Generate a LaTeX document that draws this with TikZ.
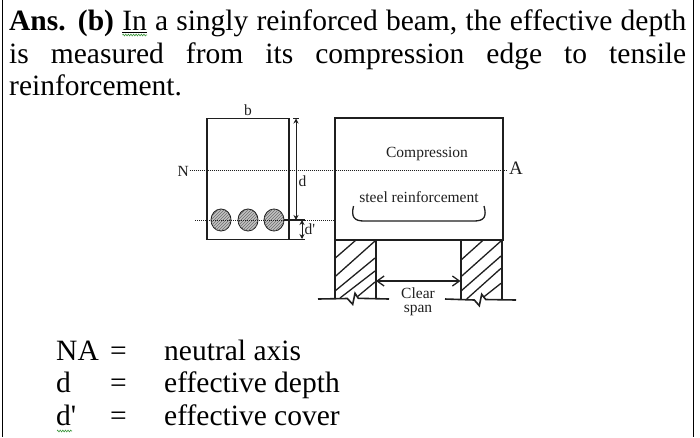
\documentclass[tikz,border=0pt]{standalone}
\usepackage{fontspec}
\setmainfont{Liberation Serif}
\usepackage{xcolor}
\definecolor{lineblack}{gray}{.12}
\definecolor{spellgreen}{RGB}{60,150,60}
\definecolor{rebargray}{gray}{.76}
\usepackage{tikz}
\usetikzlibrary{arrows.meta}
\usetikzlibrary{patterns}
\usetikzlibrary{shapes.geometric}
\usetikzlibrary{decorations.pathmorphing}
\newcommand{\sizebig}{\fontsize{29.5}{32.5}\selectfont}
\newcommand{\sizelabel}{\fontsize{15.5}{14}\selectfont}
\tikzset{
    common/.style={anchor=north west, rectangle, inner sep=0pt, outer sep=0pt},
    section/.style={common, draw=lineblack, line width=1.1pt, minimum width=82pt, minimum height=121pt},
    elevation/.style={common, draw=lineblack, line width=2pt, minimum width=168pt, minimum height=122.5pt},
    support/.style={common, minimum width=41.5pt, minimum height=59pt},
    wall/.style={line width=2pt, lineblack},
    bigtext/.style={anchor=base west, inner sep=0pt, font=\sizebig},
    small/.style={inner sep=0pt, font=\sizelabel, text=lineblack},
    rebar/.style={ellipse, draw=lineblack, line width=.9pt, fill=rebargray, minimum width=20pt, minimum height=22pt, inner sep=0pt,
        postaction={pattern=north east lines, pattern color=lineblack!65}},
    axis/.style={densely dotted, line width=1pt, lineblack},
    dim/.style={line width=1pt, lineblack, {Stealth[length=5pt,width=5pt]}-{Stealth[length=5pt,width=5pt]}},
    hatch/.style={line width=1.3pt, lineblack},
    ground/.style={line width=1.6pt, lineblack},
    spell/.style={spellgreen, line width=.6pt, decorate, decoration={zigzag, segment length=2.6pt, amplitude=.9pt}}
}
\begin{document}
\begin{tikzpicture}[x=1pt, y=-1pt]
    \useasboundingbox (0,0) rectangle (700,437);
    \draw[line width=1pt] (2,0) -- (2,437) (693,0) -- (693,437);

    % answer text
    \node[anchor=north west, inner sep=0pt, text width=677pt, align=justify, font=\sizebig] (answer) at (9,10)
        {\textbf{Ans. (b)} \underline{In} a singly reinforced beam, the effective depth\linebreak is measured from its compression edge to tensile\linebreak reinforcement.};
    \draw[spell] (122.5,35) -- (147,35);

    % cross section
    \node[section] (section) at (207,118.5) {};
    \node[small, above=3pt] (b-label) at (section.north) {b};
    \node[rebar] (bar1) at (221,220) {};
    \node[rebar] (bar2) at (248,220) {};
    \node[rebar] (bar3) at (274,220) {};
    \node[small, anchor=east] (N-label) at (189,171) {N};

    % beam on its supports
    \node[elevation] (beam) at (334.5,117.5) {};
    \node[support] (support-left) at (334.5,240) {};
    \node[support] (support-right) at (460.5,240) {};
    \draw[wall] (support-left.north west) -- (support-left.south west) (support-left.north east) -- (support-left.south east);
    \draw[wall] (support-right.north west) -- (support-right.south west) (support-right.north east) -- (support-right.south east);
    \node[font=\fontsize{19}{19}\selectfont, inner sep=0pt, anchor=west, text=lineblack] (A-label) at (509,168) {A};
    \draw[axis] ([xshift=.5pt]N-label.east |- 0,170) -- ([xshift=-3pt]A-label.west |- 0,170);
    \coordinate (level-start) at (195,220);
    \draw[axis] (level-start) -- (level-start -| beam.west);

    \foreach \xa/\ya/\xb/\yb in {335/258.3/356/240, 335/276.7/375/241, 335/291/375/258, 340/298/375/271, 357/297/375/282,
                                 461/260/483.3/240, 461/276.7/501/241, 461/291/501/256, 466.7/299/501/268.3, 483.3/297.3/501/283.3}
        \draw[hatch] (\xa,\ya) -- (\xb,\yb);
    \draw[ground] (318,299) -- (347.3,298.5) -- (352.7,304.3) -- (355,293.3) -- (358.3,298.3) -- (389,299);
    \draw[ground] (445,299) -- (474.3,300) -- (479.3,305.7) -- (481.7,294.3) -- (485.7,299.5) -- (516,300);

    % dimensions
    \coordinate (d-top) at (296,118.5);
    \coordinate (d-bot) at (296,220);
    \coordinate (cover-top) at (302,220);
    \coordinate (cover-bot) at (302,239);
    \draw[dim] (d-top) -- node[small, right=2pt, pos=.62] (d-label) {d} (d-bot);
    \draw[dim] (cover-top) -- node[small, right=2pt] (cover-label) {d\textquotesingle} (cover-bot);
    \draw[line width=1pt, lineblack] (293,118.5) -- (299,118.5);
    \draw[line width=1.3pt, lineblack] (bar3.east) -- (305,220);
    \draw[line width=1.3pt, lineblack] (section.south east) -- (305,239.5);

    % texts on the beam
    \node[small] (compression) at (427,154) {Compression};
    \node[small] (steel) at (419,197) {steel reinforcement};
    \draw[line width=1.3pt, lineblack] (353.5,206) .. controls (351,217) and (354,221) .. (364,221)
        -- (474,221) .. controls (484,221) and (487,217) .. (484,206);
    \coordinate (clear-level) at (418,281);
    \draw[line width=1.3pt, lineblack, {Straight Barb[length=7pt,width=10pt]}-{Straight Barb[length=7pt,width=10pt]}]
        (support-left.east |- clear-level) -- (support-right.west |- clear-level);
    \node[small, below=6.5pt, align=center, font=\fontsize{15.5}{14}\selectfont] (clear-span) at (clear-level) {Clear\\span};

    % legend
    \node[bigtext] (NA-sym) at (56,360) {NA};
    \node[bigtext] (NA-eq) at (110,360) {=};
    \node[bigtext] (NA-text) at (164,360) {neutral axis};
    \node[bigtext] (d-sym) at (56,392) {d};
    \node[bigtext] (d-eq) at (110,392) {=};
    \node[bigtext] (d-text) at (164,392) {effective depth};
    \node[bigtext] (cover-sym) at (56,425) {d\textquotesingle};
    \node[bigtext] (cover-eq) at (110,425) {=};
    \node[bigtext] (cover-text) at (164,425) {effective cover};
    \draw[spell] (57,431) -- (72,431);
\end{tikzpicture}
\end{document}
